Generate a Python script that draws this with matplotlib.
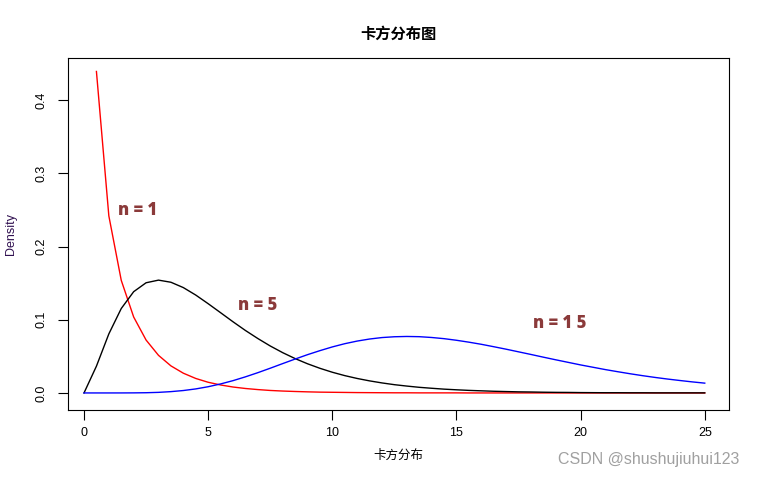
import matplotlib
matplotlib.use("Agg")
import matplotlib.pyplot as plt
import numpy as np

plt.rcParams['font.family'] = ['Liberation Sans', 'Noto Sans CJK SC', 'DejaVu Sans']

# x grid (step 0.5) and densities
x = np.arange(0, 25.5, 0.5)

n1 = [np.nan, 0.4394, 0.2420, 0.1539, 0.1038, 0.0723, 0.0514, 0.0370, 0.0270, 0.0198,
      0.0146, 0.0109, 0.0081, 0.0061, 0.0046, 0.0034, 0.0026, 0.0020, 0.0015, 0.0011,
      0.0009, 0.0007, 0.0005, 0.0004, 0.0003, 0.0002, 0.0002, 0.0001, 0.0001, 0.0001,
      0.0001, 0, 0, 0, 0, 0, 0, 0, 0, 0,
      0, 0, 0, 0, 0, 0, 0, 0, 0, 0, 0]

n5 = [0, 0.0366, 0.0807, 0.1154, 0.1384, 0.1506, 0.1542, 0.1513, 0.1440, 0.1338,
      0.1220, 0.1097, 0.0973, 0.0854, 0.0744, 0.0642, 0.0551, 0.0470, 0.0399, 0.0337,
      0.0283, 0.0237, 0.0198, 0.0165, 0.0137, 0.0113, 0.0094, 0.0077, 0.0064, 0.0052,
      0.0043, 0.0035, 0.0029, 0.0023, 0.0019, 0.0015, 0.0013, 0.0010, 0.0008, 0.0007,
      0.0005, 0.0004, 0.0003, 0.0003, 0.0002, 0.0002, 0.0001, 0.0001, 0.0001, 0.0001, 0.0001]

n15 = [0, 0, 0, 0.00002, 0.0001, 0.0003, 0.0008, 0.0018, 0.0033, 0.0055,
       0.0085, 0.0123, 0.0168, 0.0220, 0.0277, 0.0338, 0.0401, 0.0463, 0.0523, 0.0578,
       0.0629, 0.0673, 0.0709, 0.0737, 0.0757, 0.0768, 0.0772, 0.0769, 0.0758, 0.0742,
       0.0720, 0.0694, 0.0665, 0.0632, 0.0598, 0.0562, 0.0526, 0.0489, 0.0453, 0.0418,
       0.0383, 0.0351, 0.0319, 0.0290, 0.0262, 0.0236, 0.0212, 0.0190, 0.0170, 0.0151, 0.0134]

labels = ["n = 1", "n = 5", "n = 1 5"]
label_x = [2.15, 7.0, 19.14]
label_y = [0.250, 0.119, 0.095]

fig = plt.figure(figsize=(7.6, 4.8), dpi=100)
ax = fig.add_axes([0.0895, 0.146, 0.8695, 0.733])

ax.plot(x, n1, color='red', lw=1)
ax.plot(x, n5, color='black', lw=1)
ax.plot(x, n15, color='blue', lw=1)

for t, lx, ly in zip(labels, label_x, label_y):
    ax.text(lx, ly, t, color='#8B3A3A', fontsize=12, fontweight='heavy',
            ha='center', va='center', family=['Open Sans', 'DejaVu Sans'])

ax.set_xlim(-0.644, 25.97)
ax.set_ylim(-0.0232, 0.4577)
ax.set_xticks([0, 5, 10, 15, 20, 25])
ax.set_yticks([0.0, 0.1, 0.2, 0.3, 0.4])
ax.set_yticklabels(['0.0', '0.1', '0.2', '0.3', '0.4'], rotation=90, va='center')
ax.tick_params(direction='out', length=7, width=0.8, labelsize=9, pad=8)
ax.tick_params(axis='x', pad=5)
ax.spines[:].set_linewidth(0.8)

ax.set_xlabel('卡方分布', fontsize=9, labelpad=8)
ax.set_ylabel('Density', fontsize=9, labelpad=13, color='#301050')
ax.set_title('卡方分布图', fontsize=11, fontweight='bold', pad=14)

fig.text(0.853, 0.042, 'CSDN @shushujiuhui123', color='#a0a0a0', fontsize=11.5,
         ha='center', va='center')

fig.savefig("out.png", dpi=100)
